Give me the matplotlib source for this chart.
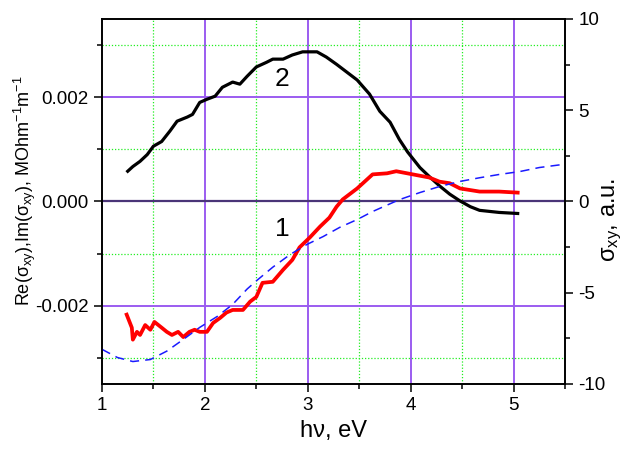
import numpy as np
import matplotlib
matplotlib.use("Agg")
import matplotlib.pyplot as plt
from matplotlib.ticker import MultipleLocator, FormatStrFormatter

plt.rcParams["font.family"] = ["Liberation Sans", "DejaVu Sans"]
plt.rcParams["mathtext.fontset"] = "custom"
plt.rcParams["mathtext.rm"] = "Liberation Sans"
plt.rcParams["mathtext.it"] = "Liberation Sans:italic"
plt.rcParams["axes.unicode_minus"] = False

# curve 2 (black), left axis
e_black = [1.25, 1.30, 1.37, 1.44, 1.50, 1.58, 1.66, 1.73, 1.83, 1.88, 1.95, 2.02,
           2.10, 2.17, 2.27, 2.34, 2.41, 2.50, 2.60, 2.66, 2.76, 2.85, 2.95, 3.02,
           3.09, 3.18, 3.28, 3.38, 3.48, 3.60, 3.70, 3.80, 3.89, 3.97, 4.09, 4.18,
           4.28, 4.38, 4.48, 4.58, 4.67, 4.86, 4.95, 5.04]
s_black = [0.00058, 0.00067, 0.00077, 0.00090, 0.00106, 0.00115, 0.00135, 0.00154,
           0.00162, 0.00167, 0.00190, 0.00196, 0.00202, 0.00219, 0.00229, 0.00225,
           0.00240, 0.00258, 0.00267, 0.00273, 0.00273, 0.00281, 0.00287, 0.00287,
           0.00287, 0.00277, 0.00263, 0.00248, 0.00233, 0.00206, 0.00173, 0.00152,
           0.00119, 0.00095, 0.00065, 0.00048, 0.00030, 0.00014, 0.00001, -0.00010,
           -0.00017, -0.00021, -0.00022, -0.00023]

# curve 1 (red), left axis
e_red = [1.24, 1.29, 1.30, 1.34, 1.37, 1.42, 1.47, 1.51, 1.58, 1.63, 1.68, 1.74,
         1.79, 1.85, 1.90, 1.95, 2.02, 2.08, 2.15, 2.21, 2.27, 2.37, 2.44, 2.50,
         2.56, 2.66, 2.76, 2.85, 2.92, 3.02, 3.12, 3.21, 3.28, 3.34, 3.48, 3.63,
         3.77, 3.86, 4.02, 4.18, 4.28, 4.38, 4.48, 4.67, 4.86, 5.04]
s_red = [-0.00217, -0.00242, -0.00265, -0.00250, -0.00256, -0.00237, -0.00246,
         -0.00231, -0.00242, -0.00250, -0.00256, -0.00250, -0.00260, -0.00250,
         -0.00246, -0.00250, -0.00250, -0.00233, -0.00223, -0.00213, -0.00208,
         -0.00208, -0.00192, -0.00183, -0.00156, -0.00154, -0.00131, -0.00112,
         -0.00088, -0.00069, -0.00048, -0.00031, -0.00010, 0.00004, 0.00025,
         0.00052, 0.00054, 0.00058, 0.00052, 0.00046, 0.00038, 0.00035, 0.00025,
         0.00019, 0.00019, 0.00017]

# calculated sigma_xy (blue dashed), right axis
e_blue = [1.00, 1.15, 1.30, 1.47, 1.63, 1.79, 1.95, 2.12, 2.27, 2.41, 2.50, 2.66,
          2.83, 2.99, 3.15, 3.31, 3.48, 3.63, 3.83, 3.89, 4.09, 4.28, 4.48, 4.67,
          4.86, 5.06, 5.25, 5.48]
s_blue = [-8.1, -8.55, -8.77, -8.66, -8.2, -7.56, -6.9, -6.3, -5.64, -4.8, -4.35,
          -3.6, -2.9, -2.36, -1.92, -1.42, -0.99, -0.55, -0.05, 0.1, 0.49, 0.82,
          1.1, 1.3, 1.48, 1.64, 1.86, 2.03]

fig = plt.figure(figsize=(6.33, 4.51), dpi=100)
ax = fig.add_axes([0.1611, 0.1486, 0.7315, 0.8093])
ax2 = ax.twinx()

# grid
ax.set_axisbelow(True)
for xv in [2, 3, 4, 5]:
    ax.axvline(xv, color="#9b5cf0", lw=1.4, zorder=0)
for xv in [1.5, 2.5, 3.5, 4.5]:
    ax.axvline(xv, color="#22ee22", lw=0.9, ls=(0, (1, 1.5)), zorder=0)
for yv in [-0.002, 0.002]:
    ax.axhline(yv, color="#9b5cf0", lw=1.4, zorder=0)
for yv in [-0.003, -0.001, 0.001, 0.003]:
    ax.axhline(yv, color="#22ee22", lw=0.9, ls=(0, (1, 1.5)), zorder=0)
ax.axhline(0, color="#4a3578", lw=1.6, zorder=1)

ax.plot(e_black, s_black, color="black", lw=2.3, zorder=3)
ax.plot(e_red, s_red, color="#ff0000", lw=2.7, zorder=3)
ax2.plot(e_blue, s_blue, color="#1a1aff", lw=1.1, ls=(0, (6, 4)))

ax.text(2.75, 0.00234, "2", fontsize=19, ha="center", va="center")
ax.text(2.75, -0.00052, "1", fontsize=19, ha="center", va="center")

ax.set_xlim(1, 5.5)
ax.set_ylim(-0.0035, 0.0035)
ax2.set_ylim(-10, 10)

ax.xaxis.set_major_locator(MultipleLocator(1))
ax.xaxis.set_minor_locator(MultipleLocator(0.5))
ax.yaxis.set_major_locator(MultipleLocator(0.002))
ax.yaxis.set_minor_locator(MultipleLocator(0.001))
ax.yaxis.set_major_formatter(FormatStrFormatter("%.3f"))
ax2.yaxis.set_major_locator(MultipleLocator(5))
ax2.yaxis.set_minor_locator(MultipleLocator(2.5))

for a in (ax, ax2):
    a.tick_params(which="major", direction="out", length=6, width=1.1, labelsize=13.5)
    a.tick_params(which="minor", direction="out", length=3.5, width=1.1)
    for sp in a.spines.values():
        sp.set_linewidth(1.2)
ax.tick_params(top=False, which="both")

ax.set_xlabel("h\u03bd, eV", fontsize=17, labelpad=4)
ax.set_ylabel(r"Re(σ$_\mathregular{xy}$),Im(σ$_\mathregular{xy}$), MOhm$^\mathregular{-1}$m$^\mathregular{-1}$",
              fontsize=13)
ax.yaxis.set_label_coords(-0.138, 0.529)
ax2.set_ylabel(r"σ$_\mathregular{xy}$, a.u.", fontsize=17)
ax2.yaxis.set_label_coords(1.076, 0.449)

fig.savefig("out.png", dpi=100)
